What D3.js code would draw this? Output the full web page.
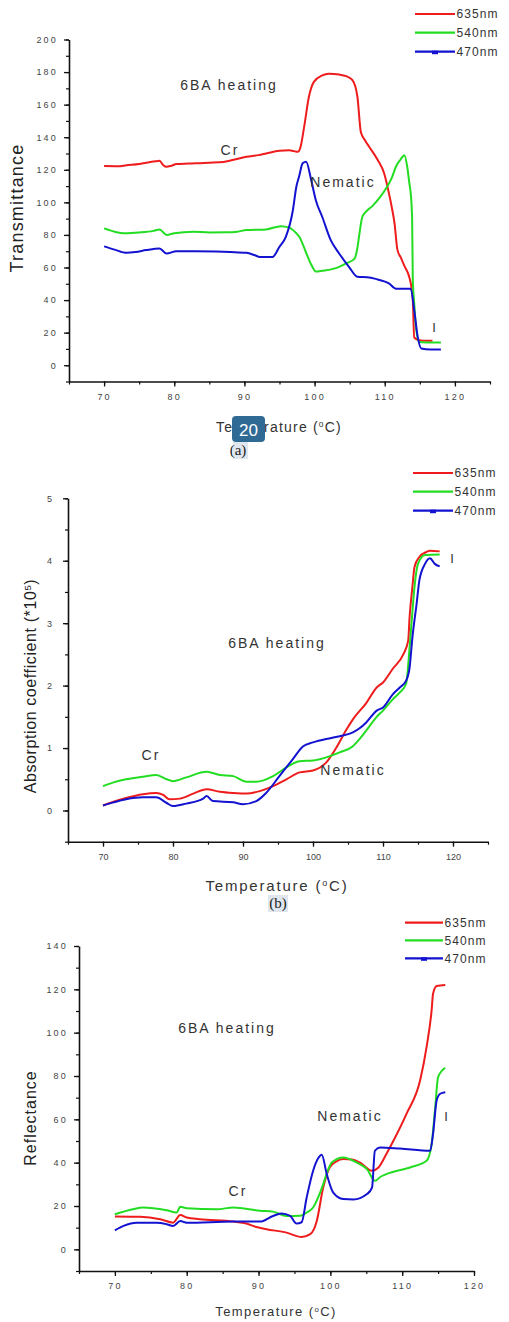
<!DOCTYPE html>
<html><head><meta charset="utf-8">
<script src="https://cdn.jsdelivr.net/npm/d3@7"></script>
<style>
body{margin:0;background:#fff;}
svg{display:block;font-family:Arial,"Liberation Sans",sans-serif;}
</style></head>
<body><svg id="c" width="509" height="1322"></svg>
<script>
// ---------- DATA ----------
const seriesNames = ["635nm","540nm","470nm"];
const seriesColors = ["#ee1c1c","#22dd22","#1212d0"];

// Panel (a) Transmittance
const trans635 = [[70,122.3],[72,122.2],[73.2,122.8],[75,123.5],[76,124.3],[77.3,125.2],[77.9,125.5],[78.4,123],[78.9,121.8],[79.6,122.5],[80.3,123.5],[82,123.8],[85,124.3],[87,124.8],[88.3,126],[90.3,128],[92,129],[93.1,130],[95,131.7],[96.4,132],[97,131.5],[97.6,131],[98,134],[98.5,146],[99.2,165],[99.9,174],[101.1,178],[102,179],[103.5,178.5],[104.5,177.5],[105.4,175],[106.1,165],[106.6,143],[107.2,138],[107.8,134],[109,126],[109.9,118],[110.6,105.5],[111,97],[111.4,87],[111.8,71],[112.3,66],[112.8,61],[113.5,54],[113.8,48],[114,40],[114.2,17],[114.9,15.4],[116,15],[116.8,15]];
const trans540 = [[70,84],[71.5,82],[73,81],[75,81.5],[77,82.5],[77.9,83.4],[78.9,80],[80,81],[82.7,82],[85,81.5],[87.4,81.6],[89,82],[90.3,83],[93.1,83.4],[95.2,85.4],[96.4,84.5],[97.4,81],[97.8,79],[98.8,69],[99.5,62],[100.2,57.5],[101.1,58],[102.5,59],[103.5,60.4],[104.5,62.5],[105.7,65.5],[106.1,72],[106.4,81],[106.8,91],[107.5,95],[108.3,98],[109.3,103],[110.2,108.6],[111,115],[111.6,122],[112.2,126],[112.8,129],[113.2,122],[113.5,112],[113.7,105.5],[113.9,90],[114,52],[114.2,38],[114.4,25.6],[114.9,14.3],[116,14],[118,14]];
const trans470 = [[70,73],[71.5,71],[73.2,69],[74.5,69.5],[76,70.7],[77.9,71.7],[78.9,68.6],[80.3,70],[83,70],[86,69.8],[88,69.5],[90.3,69],[91.5,67.5],[92.2,66.5],[94,66.5],[95,72.7],[95.9,78.8],[96.9,95],[97.4,109.6],[97.8,116],[98.3,124],[98.8,125],[99.5,114],[100.2,101],[101.1,91],[102.3,76.8],[103.5,68.6],[104.9,60.4],[106.1,54.3],[107.5,54],[108.7,53],[110.6,50.2],[111.6,47],[113.7,47],[114.2,33.8],[114.7,17.4],[115.2,10.3],[116.5,9.7],[118,9.7]];

// Panel (b) Absorption coefficient (*10^5)
const abs635 = [[70,0.08],[71.5,0.14],[73.3,0.2],[75.7,0.26],[77.6,0.28],[78.6,0.25],[79.5,0.18],[81,0.19],[82.9,0.27],[84.8,0.34],[86.7,0.3],[88.6,0.28],[90.5,0.27],[92.4,0.31],[94.3,0.39],[96.2,0.5],[98.1,0.61],[100,0.64],[101.9,0.77],[103.3,1.0],[104.8,1.3],[105.7,1.46],[107.6,1.72],[109.1,1.97],[110,2.05],[111.4,2.27],[112.9,2.5],[113.6,2.72],[113.8,3.1],[114.2,3.58],[114.5,3.9],[115.2,4.06],[116.2,4.14],[116.7,4.16],[118.1,4.15]];
const abs540 = [[70,0.39],[71.5,0.45],[73.3,0.5],[75.7,0.54],[77.6,0.57],[79.1,0.5],[80,0.47],[81.9,0.53],[84.8,0.62],[86.7,0.57],[88.6,0.55],[90.5,0.46],[91.9,0.46],[94.3,0.55],[96.2,0.69],[98.1,0.79],[100,0.8],[101.9,0.85],[103.8,0.93],[105.7,1.03],[106.7,1.15],[107.6,1.28],[109.1,1.5],[110,1.6],[111.4,1.78],[112.4,1.89],[113.3,2.03],[113.8,2.61],[114.1,3.04],[114.5,3.58],[115,3.95],[116,4.09],[118.1,4.1]];
const abs470 = [[70,0.08],[71.5,0.13],[73.3,0.18],[75.7,0.21],[77.6,0.21],[79.1,0.12],[80,0.07],[81.9,0.11],[84.3,0.19],[84.8,0.23],[85.7,0.15],[88.6,0.13],[90,0.1],[91.9,0.15],[93.3,0.28],[95.2,0.55],[97.1,0.82],[98.6,1.03],[100,1.09],[102.9,1.17],[105.7,1.25],[106.7,1.32],[107.6,1.41],[109.1,1.6],[110,1.65],[111.4,1.86],[112.4,1.97],[113.3,2.08],[113.8,2.29],[114.2,2.77],[114.8,3.31],[115.2,3.69],[116,3.95],[116.7,4.04],[117.4,3.95],[118.1,3.91]];

// Panel (c) Reflectance
const refl635 = [[70,15.1],[73.5,15],[76.3,13.9],[78.1,12.3],[79.1,15.9],[80,14.7],[81.8,13.9],[86.5,12.8],[88.3,11.9],[89.7,10.3],[91.1,9.3],[93.9,7.7],[96,5.7],[97.2,7],[98.1,13],[99,28.5],[99.9,37.8],[100.8,40.5],[101.8,41.7],[103,41.5],[104.1,40.1],[105.8,36.3],[106.7,37.8],[107.8,44],[108.8,50.2],[110.6,62.5],[112.5,78],[113.4,93.4],[114.1,110.4],[114.3,118],[114.8,121.5],[116,122]];
const refl540 = [[70,16.2],[72.5,18.5],[73.9,19.3],[77.2,18],[78.6,17],[79.1,19.6],[80,19],[84.2,18.5],[86.5,19.3],[90.2,17.8],[92,17.4],[93.9,15.4],[95.8,15.5],[96.7,17],[97.6,19.3],[98.3,24],[99,30],[99.6,36],[100.2,40.1],[101.8,42.4],[103.7,40],[105.1,37],[106.2,31.6],[107,33.5],[107.8,34.7],[111.1,37.8],[113.4,40.9],[114.1,48.6],[114.6,65.6],[115,79.5],[116,83.8]];
const refl470 = [[70,8.8],[71.2,10.8],[73,12.3],[75.8,12.3],[77.2,11.6],[78.1,10.8],[79.1,13.1],[80,12.3],[86.5,12.8],[90.2,12.8],[92,15.4],[93.2,16.5],[94.4,15.4],[95.3,11.9],[96,12.5],[96.7,23.9],[97.6,36.3],[98.3,42],[98.8,43.7],[99.5,34.7],[100.4,26.2],[101.8,23.2],[103.2,23],[105.1,25.5],[105.8,28.5],[106.2,45.5],[106.9,47],[109.7,46.5],[113.9,45.5],[114.3,53.3],[114.8,68.7],[115.3,71.8],[116,72.5]];

const xTicks = [70,80,90,100,110,120];
const yTicksA = [0,20,40,60,80,100,120,140,160,180,200];
const yTicksB = [0,1,2,3,4,5];
const yTicksC = [0,20,40,60,80,100,120,140];

// ---------- DRAW ----------
const svg = d3.select("#c");
const fmtInt = d3.format("d");

function supText(sel, parts){
  parts.forEach(p=>{
    const t = sel.append("tspan").text(p.t);
    if(p.sup){ t.attr("baseline-shift","super").attr("font-size","0.6em"); }
  });
}

function panel(cfg){
  const g = svg.append("g");
  const x = d3.scaleLinear().domain(cfg.xDomain).range(cfg.xRange);
  const y = d3.scaleLinear().domain(cfg.yDomain).range(cfg.yRange);
  const x0 = cfg.xRange[0], y0 = cfg.yRange[0];

  // minor ticks
  const xMinor = d3.range(cfg.xDomain[0], cfg.xDomain[1]+0.01, 5);
  const yMinor = d3.range(cfg.yMinorStart, cfg.yDomain[1]+1e-6, cfg.yMinorStep);
  g.append("g").attr("transform",`translate(0,${y0})`)
    .call(d3.axisBottom(x).tickValues(xMinor).tickSize(3).tickSizeOuter(0).tickFormat(""))
    .call(s=>s.select(".domain").remove())
    .selectAll("line").attr("stroke","#111").attr("stroke-width",1.2);
  g.append("g").attr("transform",`translate(${x0},0)`)
    .call(d3.axisLeft(y).tickValues(yMinor).tickSize(3).tickSizeOuter(0).tickFormat(""))
    .call(s=>s.select(".domain").remove())
    .selectAll("line").attr("stroke","#111").attr("stroke-width",1.2);

  // major axes
  const xa = g.append("g").attr("transform",`translate(0,${y0})`)
    .call(d3.axisBottom(x).tickValues(xTicks).tickFormat(fmtInt).tickSize(5).tickSizeOuter(0).tickPadding(7));
  const ya = g.append("g").attr("transform",`translate(${x0},0)`)
    .call(d3.axisLeft(y).tickValues(cfg.yTicks).tickFormat(fmtInt).tickSize(5).tickSizeOuter(0).tickPadding(cfg.yPad));
  [xa,ya].forEach(a=>{
    a.select(".domain").attr("stroke","#111").attr("stroke-width",1.6);
    a.selectAll(".tick line").attr("stroke","#111").attr("stroke-width",1.3);
    a.selectAll(".tick text").attr("fill","#444").attr("font-size",9)
      .attr("letter-spacing",cfg.tickLS).attr("font-family","Arial, 'Liberation Sans', sans-serif");
  });

  // lines
  const line = d3.line().x(d=>x(d[0])).y(d=>y(d[1])).curve(d3.curveMonotoneX);
  cfg.series.forEach((s,i)=>{
    g.append("path").datum(s).attr("d",line).attr("fill","none")
      .attr("stroke",seriesColors[i]).attr("stroke-width",2)
      .attr("stroke-linejoin","round");
  });

  // legend
  const L = cfg.legend;
  seriesNames.forEach((n,i)=>{
    const yy = L.ys[i];
    g.append("line").attr("x1",L.x1).attr("x2",L.x2).attr("y1",yy).attr("y2",yy)
      .attr("stroke",seriesColors[i]).attr("stroke-width",2.2);
    if(i===2){
      const mx=(L.x1+L.x2)/2;
      g.append("rect").attr("x",mx-3).attr("y",yy-1).attr("width",6).attr("height",3.5).attr("fill",seriesColors[i]);
    }
    g.append("text").attr("x",L.x2+1.5).attr("y",yy).attr("dy","0.36em")
      .attr("font-size",12).attr("letter-spacing",1.1).attr("fill","#333").text(n);
  });

  // annotations
  cfg.notes.forEach(n=>{
    g.append("text").attr("x",n.x).attr("y",n.y).attr("dy","0.36em")
      .attr("text-anchor",n.anchor||"middle").attr("font-size",n.fs||14)
      .attr("letter-spacing",n.ls==null?2:n.ls).attr("fill","#333").text(n.t);
  });

  // axis titles
  const yt = g.append("text").attr("transform",`translate(${cfg.yTitle.x},${cfg.yTitle.y}) rotate(-90)`)
    .attr("text-anchor","middle").attr("dy","0.36em").attr("font-size",cfg.yTitle.fs)
    .attr("letter-spacing",cfg.yTitle.ls).attr("fill","#222");
  supText(yt, cfg.yTitle.parts);
  const xt = g.append("text").attr("x",cfg.xTitle.x).attr("y",cfg.xTitle.y).attr("dy","0.36em")
    .attr("text-anchor","middle").attr("font-size",cfg.xTitle.fs)
    .attr("letter-spacing",cfg.xTitle.ls).attr("fill","#333");
  supText(xt, [{t:"Temperature ("},{t:"o",sup:true},{t:"C)"}]);
}

panel({
  xDomain:[65,125], xRange:[69,490], yDomain:[-10,200], yRange:[381.5,39.5],
  yTicks:yTicksA, yMinorStart:-10, yMinorStep:10, yPad:6, tickLS:2.2,
  series:[trans635,trans540,trans470],
  legend:{x1:415,x2:455,ys:[14,32.7,51.7]},
  notes:[{t:"6BA heating",x:229,y:85},{t:"Cr",x:230,y:150},{t:"Nematic",x:343,y:182},{t:"I",x:434,y:327,ls:0,fs:13}],
  yTitle:{x:17,y:208,fs:18,ls:1.2,parts:[{t:"Transmittance"}]},
  xTitle:{x:279,y:426.5,fs:14,ls:1.2}
});

panel({
  xDomain:[65,125], xRange:[68,488], yDomain:[-0.5,5], yRange:[841.7,498.3],
  yTicks:yTicksB, yMinorStart:-0.5, yMinorStep:0.5, yPad:11, tickLS:0,
  series:[abs635,abs540,abs470],
  legend:{x1:413,x2:453,ys:[473,491.7,510.7]},
  notes:[{t:"6BA heating",x:277,y:643},{t:"Cr",x:151,y:755},{t:"Nematic",x:353,y:770},{t:"I",x:452,y:558,ls:0,fs:13}],
  yTitle:{x:30,y:686,fs:16,ls:0.6,parts:[{t:"Absorption coefficient (*10"},{t:"5",sup:true},{t:")"}]},
  xTitle:{x:277,y:886,fs:15,ls:1.8}
});

panel({
  xDomain:[65,120], xRange:[79,474], yDomain:[-10,140], yRange:[1271,946],
  yTicks:yTicksC, yMinorStart:-10, yMinorStep:10, yPad:6, tickLS:2.2,
  series:[refl635,refl540,refl470],
  legend:{x1:405,x2:443,ys:[922.7,940.3,958.3]},
  notes:[{t:"6BA heating",x:227,y:1028},{t:"Cr",x:238,y:1191},{t:"Nematic",x:350,y:1116},{t:"I",x:446,y:1116,ls:0,fs:13}],
  yTitle:{x:30,y:1118,fs:16,ls:1,parts:[{t:"Reflectance"}]},
  xTitle:{x:276,y:1311,fs:13,ls:1.4}
});

// sub-figure captions
function caption(txt, cx, cy, bx, bw){
  svg.append("rect").attr("x",bx).attr("y",cy-8).attr("width",bw).attr("height",17).attr("fill","#dfe6ee");
  svg.append("text").attr("x",cx).attr("y",cy).attr("dy","0.36em").attr("text-anchor","middle")
    .attr("font-family","'Liberation Serif','Times New Roman',serif").attr("font-size",15).attr("fill","#222").text(txt);
}
caption("(a)",238,450,233,15);
caption("(b)",278,903,268,20);

// page-number badge (part of the reference picture, it covers the axis title)
svg.append("rect").attr("x",232).attr("y",416).attr("width",33).attr("height",26).attr("rx",4).attr("fill","#2f6a94");
svg.append("text").attr("x",248.5).attr("y",429.5).attr("dy","0.36em").attr("text-anchor","middle")
  .attr("font-size",17).attr("fill","#fff").text("20");
</script></body></html>
